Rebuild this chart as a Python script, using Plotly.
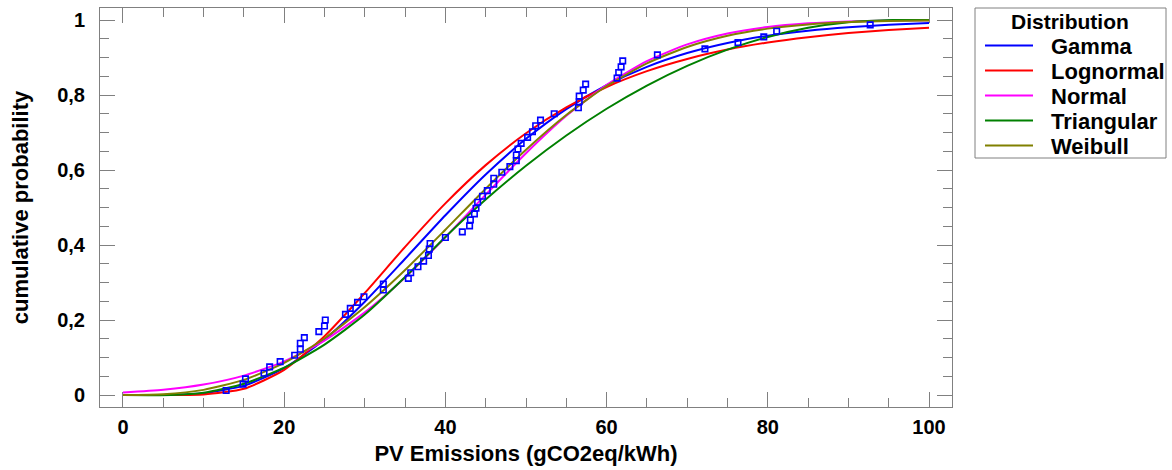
import plotly.graph_objects as go

obs_x = [12.8, 14.9, 15.2, 17.5, 18.2, 19.5, 21.3, 22.0, 22.0, 22.5, 24.3, 25.0, 25.1,
         27.6, 28.2, 29.1, 29.9, 32.3, 32.3, 35.4, 35.7, 36.6, 37.3, 37.9, 38.0, 38.1,
         40.0, 42.1, 43.0, 43.1, 43.6, 43.8, 44.0, 44.6, 45.2, 46.0, 46.0, 47.0, 48.0,
         48.8, 48.8, 49.0, 49.4, 50.2, 50.8, 51.2, 51.8, 53.5, 56.5, 56.6, 56.6, 57.1,
         57.4, 61.3, 61.5, 61.8, 62.0, 66.3, 72.2, 76.3, 79.5, 81.1, 92.7]
obs_y = [0.012, 0.029, 0.043, 0.058, 0.075, 0.089, 0.106, 0.122, 0.138, 0.153, 0.169,
         0.184, 0.200, 0.215, 0.231, 0.247, 0.262, 0.280, 0.296, 0.311, 0.326, 0.342,
         0.357, 0.372, 0.389, 0.404, 0.420, 0.435, 0.451, 0.467, 0.483, 0.498, 0.514,
         0.530, 0.545, 0.562, 0.578, 0.594, 0.609, 0.625, 0.640, 0.656, 0.671, 0.687,
         0.702, 0.718, 0.733, 0.750, 0.766, 0.782, 0.797, 0.813, 0.829, 0.845, 0.860,
         0.875, 0.891, 0.907, 0.923, 0.940, 0.955, 0.970, 0.987]

# Fitted distribution curves, read at regular x positions
curve_x = [0, 5, 10, 15, 20, 25, 30, 35, 40, 45, 50, 55, 60, 65, 70, 75, 80, 85, 90, 95, 100]
gamma_y = [0.0, 0.0003, 0.0049, 0.0249, 0.0718, 0.1479, 0.2488, 0.3632, 0.4792, 0.588,
           0.6831, 0.7625, 0.826, 0.875, 0.9118, 0.9387, 0.958, 0.9715, 0.9809, 0.9873, 0.9917]
lognormal_y = [0.0, 0.0, 0.0012, 0.0165, 0.067, 0.1568, 0.272, 0.395, 0.511, 0.613,
               0.698, 0.767, 0.8214, 0.8637, 0.8962, 0.9211, 0.940, 0.9543, 0.9652, 0.9734, 0.9796]
normal_y = [0.0065, 0.0139, 0.0278, 0.0517, 0.0897, 0.1452, 0.2203, 0.3135, 0.4207, 0.5342,
            0.6448, 0.7445, 0.8271, 0.8904, 0.935, 0.9641, 0.9815, 0.9911, 0.9961, 0.9984, 0.9994]
weibull_y = [0.0, 0.0021, 0.0137, 0.0403, 0.0855, 0.1507, 0.2346, 0.3333, 0.4408, 0.5502,
             0.6542, 0.7468, 0.824, 0.8843, 0.9282, 0.9581, 0.977, 0.9883, 0.9944, 0.9975, 0.999]
tri_x = [0, 6, 10, 15, 20, 25, 30, 36, 40, 45, 50, 55, 60, 65, 70, 75, 80, 85, 90, 95.5, 100]
triangular_y = [0.0, 0.0, 0.006, 0.0302, 0.073, 0.1345, 0.2145, 0.3352, 0.4215, 0.5211,
                0.6112, 0.692, 0.7633, 0.8253, 0.8779, 0.9211, 0.9549, 0.9793, 0.9943, 1.0, 1.0]

series_names = ["Gamma", "Lognormal", "Normal", "Triangular", "Weibull"]
series_x = [curve_x, curve_x, curve_x, tri_x, curve_x]
series_y = [gamma_y, lognormal_y, normal_y, triangular_y, weibull_y]
series_colors = ["#0000FF", "#FF0000", "#FF00FF", "#008000", "#808000"]
legend_title = "Distribution"

FONT = "Liberation Sans, Arial, sans-serif"
W, H = 1172, 470
ML, MR, MT, MB = 100, 220, 8, 63
PW, PH = W - ML - MR, H - MT - MB


def px_x(px):
    return (px - ML) / PW


def px_y(py):
    return (H - MB - py) / PH


fig = go.Figure()
for name, xs, ys, col in zip(series_names, series_x, series_y, series_colors):
    fig.add_trace(go.Scatter(
        x=xs, y=ys, mode="lines", name=name, showlegend=False,
        line=dict(color=col, width=2, shape="spline", smoothing=0.6),
    ))

fig.add_trace(go.Scatter(
    x=obs_x, y=obs_y, mode="markers", showlegend=False,
    marker=dict(symbol="square-open", size=5.5, color="#0000FF", line=dict(width=1.6, color="#0000FF")),
))

# Legend drawn as a boxed key to the right of the plot
shapes = [dict(type="rect", xref="paper", yref="paper",
               x0=px_x(975), x1=px_x(1166), y0=px_y(158), y1=px_y(8),
               line=dict(color="#808080", width=1), fillcolor="white", layer="above")]
annotations = [dict(text=legend_title, xref="paper", yref="paper", x=px_x(1070), y=px_y(21),
                    xanchor="center", yanchor="middle", showarrow=False,
                    font=dict(family=FONT, size=21, color="black", weight="bold"))]
for i, (name, col) in enumerate(zip(series_names, series_colors)):
    yc = 45.5 + i * 25
    shapes.append(dict(type="line", xref="paper", yref="paper",
                       x0=px_x(985), x1=px_x(1033), y0=px_y(yc), y1=px_y(yc),
                       line=dict(color=col, width=2), layer="above"))
    annotations.append(dict(text=name, xref="paper", yref="paper", x=px_x(1049), y=px_y(yc + 1),
                            xanchor="left", yanchor="middle", showarrow=False,
                            font=dict(family=FONT, size=22, color="black", weight="bold")))

axis_common = dict(
    showgrid=False, zeroline=False, showline=True, linecolor="#808080", linewidth=1,
    mirror="ticks", ticks="inside", ticklen=15, tickcolor="#808080", tickwidth=1,
    tickfont=dict(family=FONT, size=20, color="black", weight="bold"),
)

fig.update_layout(
    width=W, height=H,
    margin=dict(l=ML, r=MR, t=MT, b=MB, autoexpand=False),
    paper_bgcolor="white", plot_bgcolor="white",
    separators=", ",
    font=dict(family=FONT, color="black"),
    showlegend=False,
    shapes=shapes,
    annotations=annotations,
    xaxis=dict(
        range=[-2.85, 102.85], tickmode="linear", tick0=0, dtick=20,
        minor=dict(dtick=5, tick0=0, ticks="inside", ticklen=9, tickcolor="#808080"),
        ticklabelstandoff=2,
        title=dict(text="PV Emissions (gCO2eq/kWh)", standoff=8,
                   font=dict(family=FONT, size=22, color="black", weight="bold")),
        **axis_common,
    ),
    yaxis=dict(
        range=[-0.032, 1.032], tickmode="linear", tick0=0, dtick=0.2,
        minor=dict(dtick=0.05, tick0=0, ticks="inside", ticklen=9, tickcolor="#808080"),
        ticklabelstandoff=10,
        title=dict(text="cumulative probability", standoff=22,
                   font=dict(family=FONT, size=22, color="black", weight="bold")),
        **axis_common,
    ),
)

fig.write_html("out.html")
